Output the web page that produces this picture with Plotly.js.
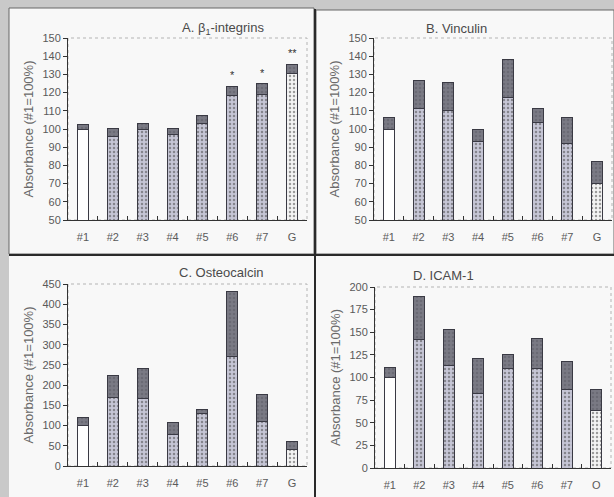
<!DOCTYPE html>
<html><head><meta charset="utf-8">
<script src="https://cdn.plot.ly/plotly-3.0.1.min.js"></script>
<style>html,body{margin:0;padding:0;background:#c9c9c9}#chart{width:614px;height:497px}</style>
</head><body><div id="chart"></div>
<script>
// ---- data ----
var catsABC = ['#1','#2','#3','#4','#5','#6','#7','G'];
var catsD   = ['#1','#2','#3','#4','#5','#6','#7','O'];

var aLower = [100, 96, 99.5, 97, 103, 118.5, 119, 130.5];
var aTotal = [102.5, 100.5, 103, 100.5, 107.5, 123.5, 125, 135.5];
var aSig   = ['', '', '', '', '', '*', '*', '**'];

var bLower = [100, 111, 110, 93, 117.5, 103.5, 92, 70];
var bTotal = [106.5, 126.5, 125.5, 99.5, 138, 111, 106.5, 82];

var cLower = [99, 169, 167, 78, 129, 271, 110, 40];
var cTotal = [120, 225, 240, 108, 140, 431, 178, 60];

var dLower = [100, 142, 113.5, 82, 110.5, 110.5, 87, 63];
var dTotal = [111, 189, 153.5, 120.5, 125, 143.5, 118, 87];

var titles = ['A. \u03B2<sub>1</sub>-integrins', 'B. Vinculin', 'C. Osteocalcin', 'D. ICAM-1'];
var yTitle = 'Absorbance (#1=100%)';

// ---- helpers ----
function upper(lower, total){ return total.map(function(t,i){ return +(t-lower[i]).toFixed(2); }); }
function lowerColors(n){ var c=[]; for(var i=0;i<n;i++){ c.push(i===0?'#ffffff':(i===n-1?'#f4f4f4':'#c6c6d6')); } return c; }
function lowerShapes(n){ var c=[]; for(var i=0;i<n;i++){ c.push(i===0?'':'.'); } return c; }

var panels = [
  {cats:catsABC, lo:aLower, tot:aTotal, xa:'x',  ya:'y'},
  {cats:catsABC, lo:bLower, tot:bTotal, xa:'x2', ya:'y2'},
  {cats:catsABC, lo:cLower, tot:cTotal, xa:'x3', ya:'y3'},
  {cats:catsD,   lo:dLower, tot:dTotal, xa:'x4', ya:'y4'}
];

var traces = [];
panels.forEach(function(p){
  var n = p.cats.length;
  traces.push({type:'bar', x:p.cats, y:p.lo, xaxis:p.xa, yaxis:p.ya, width:0.37,
    marker:{color:lowerColors(n), line:{color:'#3a3a44', width:1},
      pattern:{shape:lowerShapes(n), fillmode:'overlay', fgcolor:'#8a8a9a', size:4, solidity:0.3}},
    hoverinfo:'skip', showlegend:false});
  traces.push({type:'bar', x:p.cats, y:upper(p.lo,p.tot), xaxis:p.xa, yaxis:p.ya, width:0.37,
    marker:{color:'#7a7a84', line:{color:'#3a3a44', width:1},
      pattern:{shape:'.', fillmode:'overlay', fgcolor:'#5a5a64', size:4, solidity:0.35}},
    hoverinfo:'skip', showlegend:false});
});

function W(px){ return px/614; }
function H(py){ return 1 - py/497; }

var FF = 'Liberation Sans, Arial, sans-serif';
var tickFont = {family:FF, size:11, color:'#5a5a5a'};
function xaxis(dom, anchor){
  return {domain:dom, anchor:anchor, type:'category', showline:true, linecolor:'#333', linewidth:1,
    ticks:'inside', tickson:'boundaries', ticklen:4, tickcolor:'#333', tickfont:tickFont,
    ticklabelstandoff:7, showgrid:false, zeroline:false, fixedrange:true};
}
function yaxis(dom, anchor, range, dtick){
  return {domain:dom, anchor:anchor, range:range, dtick:dtick, showline:true, linecolor:'#333', linewidth:1,
    ticks:'outside', ticklen:4, tickcolor:'#333', tickfont:tickFont, showgrid:false, zeroline:false,
    fixedrange:true, title:{text:yTitle, font:{family:FF, size:13, color:'#6a6a6a'}, standoff:5}};
}

var xdA=[W(68),W(307)], xdB=[W(374),W(612)], xdD=[W(375),W(611)];
var ydTop=[H(220),H(38)], ydC=[H(466),H(284)], ydD=[H(468),H(287)];

var shapes = [
  {type:'rect', xref:'paper', yref:'paper', x0:W(9), x1:W(314), y0:H(254), y1:H(8), fillcolor:'#f8f8f8', line:{color:'#666', width:1}, layer:'below'},
  {type:'rect', xref:'paper', yref:'paper', x0:W(316), x1:W(614), y0:H(254), y1:H(10), fillcolor:'#f8f8f8', line:{color:'#666', width:1}, layer:'below'},
  {type:'rect', xref:'paper', yref:'paper', x0:W(9), x1:W(314), y0:H(497), y1:H(256), fillcolor:'#f8f8f8', line:{width:0}, layer:'below'},
  {type:'rect', xref:'paper', yref:'paper', x0:W(316), x1:W(614), y0:H(497), y1:H(256), fillcolor:'#f8f8f8', line:{width:0}, layer:'below'},
  {type:'line', xref:'paper', yref:'paper', x0:W(9), x1:1, y0:H(255), y1:H(255), line:{color:'#2a2a2a', width:2}},
  {type:'line', xref:'paper', yref:'paper', x0:W(315), x1:W(315), y0:0, y1:H(9), line:{color:'#2a2a2a', width:2}}
];
[['x','y'],['x2','y2'],['x3','y3'],['x4','y4']].forEach(function(a){
  shapes.push({type:'rect', xref:a[0]+' domain', yref:a[1]+' domain', x0:0, x1:1, y0:0, y1:1,
    line:{color:'#b4b4b4', width:1, dash:'dot'}, layer:'below'});
});

var titleFont = {family:FF, size:13, color:'#4a4a4a'};
var annotations = [
  {text:titles[0], xref:'paper', yref:'paper', x:W(180), y:H(28), yanchor:'middle', showarrow:false, font:titleFont},
  {text:titles[1], xref:'paper', yref:'paper', x:W(489), y:H(28), yanchor:'middle', showarrow:false, font:titleFont},
  {text:titles[2], xref:'paper', yref:'paper', x:W(177), y:H(272), yanchor:'middle', showarrow:false, font:titleFont},
  {text:titles[3], xref:'paper', yref:'paper', x:W(476), y:H(275), yanchor:'middle', showarrow:false, font:titleFont}
];
aSig.forEach(function(s,i){
  if(s){ annotations.push({text:s, xref:'x', yref:'y', x:catsABC[i], y:aTotal[i], yanchor:'bottom', yshift:3,
    showarrow:false, font:{family:FF, size:11, color:'#333'}}); }
});

var layout = {
  width:614, height:497, margin:{l:0, r:0, t:0, b:0},
  paper_bgcolor:'#c9c9c9', plot_bgcolor:'rgba(0,0,0,0)',
  barmode:'stack', showlegend:false,
  xaxis: xaxis(xdA,'y'),   yaxis: yaxis(ydTop,'x',[50,150],10),
  xaxis2:xaxis(xdB,'y2'),  yaxis2:yaxis(ydTop,'x2',[50,150],10),
  xaxis3:xaxis(xdA,'y3'),  yaxis3:yaxis(ydC,'x3',[0,450],50),
  xaxis4:xaxis(xdD,'y4'),  yaxis4:yaxis(ydD,'x4',[0,200],25),
  shapes:shapes, annotations:annotations
};

Plotly.newPlot('chart', traces, layout, {displayModeBar:false, staticPlot:true});
</script></body></html>
